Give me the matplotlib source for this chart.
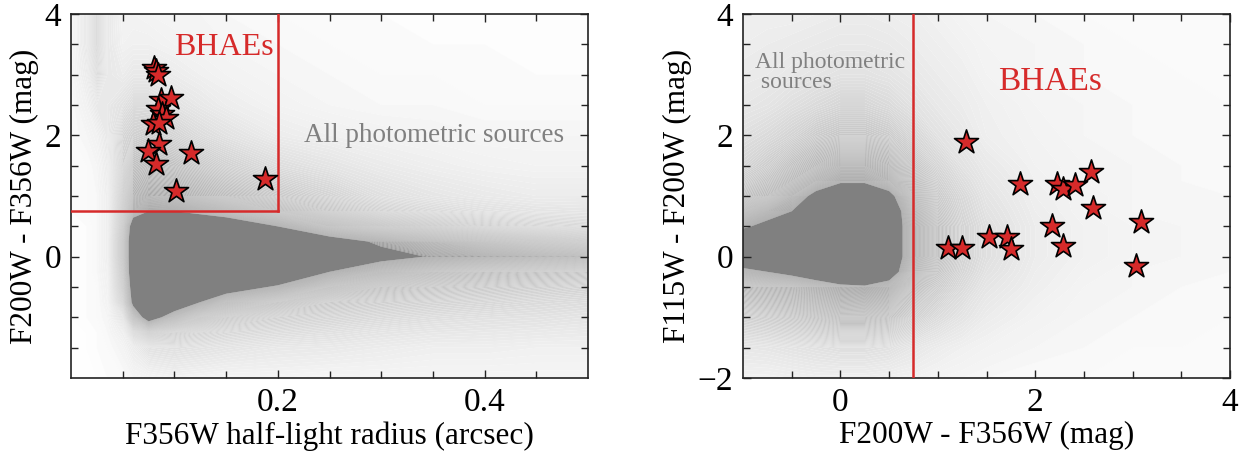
import matplotlib
matplotlib.use('Agg')
import matplotlib.pyplot as plt
import numpy as np
from matplotlib.colors import LinearSegmentedColormap

plt.rcParams['font.family'] = ['Liberation Serif', 'DejaVu Serif']

RED = '#d62a2a'
GRAY = '#808080'

# ---- density of all photometric sources, left panel (radius vs colour)
lx_nodes = [0.0, 0.015, 0.025, 0.035, 0.05, 0.06, 0.075, 0.1, 0.125, 0.15,
            0.2, 0.25, 0.3, 0.35, 0.4, 0.45, 0.5]
ly_nodes = [4.0, 3.5, 3.0, 2.5, 2.0, 1.5, 1.0, 0.75, 0.5, 0.25, 0.0,
            -0.25, -0.5, -0.75, -1.0, -1.25, -1.5, -2.0]
left_density = [
    [0.04, 0.15, 0.30, 0.15, 0.07, 0.07, 0.06, 0.05, 0.05, 0.04, 0.03, 0.03, 0.02, 0.02, 0.02, 0.02, 0.02],
    [0.04, 0.15, 0.30, 0.15, 0.08, 0.09, 0.09, 0.07, 0.06, 0.05, 0.04, 0.03, 0.03, 0.02, 0.02, 0.02, 0.02],
    [0.04, 0.12, 0.25, 0.15, 0.12, 0.15, 0.15, 0.12, 0.09, 0.07, 0.05, 0.04, 0.03, 0.03, 0.03, 0.02, 0.02],
    [0.03, 0.08, 0.15, 0.15, 0.20, 0.25, 0.25, 0.20, 0.15, 0.11, 0.07, 0.05, 0.04, 0.04, 0.03, 0.03, 0.03],
    [0.03, 0.05, 0.08, 0.15, 0.30, 0.35, 0.38, 0.32, 0.25, 0.20, 0.12, 0.09, 0.07, 0.06, 0.05, 0.05, 0.05],
    [0.02, 0.03, 0.05, 0.12, 0.35, 0.50, 0.55, 0.50, 0.42, 0.34, 0.24, 0.18, 0.13, 0.10, 0.08, 0.07, 0.07],
    [0.02, 0.03, 0.04, 0.10, 0.45, 0.70, 0.80, 0.75, 0.65, 0.55, 0.42, 0.32, 0.22, 0.17, 0.14, 0.12, 0.12],
    [0.02, 0.03, 0.04, 0.10, 0.50, 0.85, 1.00, 1.00, 0.90, 0.80, 0.60, 0.45, 0.33, 0.26, 0.21, 0.18, 0.17],
    [0.02, 0.02, 0.04, 0.10, 0.55, 1.20, 1.40, 1.40, 1.40, 1.30, 1.00, 0.70, 0.55, 0.45, 0.36, 0.30, 0.27],
    [0.02, 0.02, 0.04, 0.10, 0.60, 1.30, 1.50, 1.50, 1.50, 1.50, 1.40, 1.15, 0.95, 0.78, 0.65, 0.55, 0.48],
    [0.02, 0.02, 0.04, 0.10, 0.60, 1.30, 1.50, 1.50, 1.50, 1.50, 1.50, 1.30, 1.10, 0.98, 0.90, 0.82, 0.75],
    [0.02, 0.02, 0.04, 0.09, 0.55, 1.30, 1.50, 1.50, 1.50, 1.50, 1.40, 1.00, 0.78, 0.65, 0.56, 0.50, 0.45],
    [0.02, 0.02, 0.03, 0.08, 0.50, 1.20, 1.50, 1.50, 1.40, 1.20, 0.95, 0.65, 0.52, 0.45, 0.40, 0.36, 0.32],
    [0.01, 0.02, 0.03, 0.07, 0.40, 1.10, 1.40, 1.30, 1.00, 0.75, 0.55, 0.42, 0.36, 0.32, 0.29, 0.26, 0.24],
    [0.01, 0.02, 0.03, 0.05, 0.20, 0.70, 1.20, 0.80, 0.55, 0.45, 0.35, 0.30, 0.26, 0.23, 0.21, 0.20, 0.18],
    [0.01, 0.01, 0.02, 0.04, 0.10, 0.30, 0.45, 0.38, 0.32, 0.28, 0.24, 0.21, 0.18, 0.16, 0.15, 0.14, 0.13],
    [0.01, 0.01, 0.02, 0.03, 0.06, 0.12, 0.20, 0.22, 0.20, 0.18, 0.15, 0.14, 0.12, 0.10, 0.10, 0.09, 0.09],
    [0.01, 0.01, 0.01, 0.02, 0.03, 0.05, 0.06, 0.08, 0.07, 0.06, 0.06, 0.05, 0.05, 0.05, 0.05, 0.05, 0.05],
]

# ---- density of all photometric sources, right panel (colour vs colour)
rx_nodes = [-1.0, -0.75, -0.5, -0.25, 0.0, 0.25, 0.5, 0.75, 1.0, 1.25, 1.5,
            2.0, 2.5, 3.0, 3.5, 4.0]
ry_nodes = [4.0, 3.5, 3.0, 2.5, 2.0, 1.5, 1.25, 1.0, 0.75, 0.5, 0.25, 0.0,
            -0.25, -0.5, -1.0, -1.5, -2.0]
right_density = [
    [0.10, 0.10, 0.10, 0.11, 0.12, 0.12, 0.11, 0.10, 0.08, 0.06, 0.05, 0.04, 0.03, 0.03, 0.03, 0.03],
    [0.11, 0.12, 0.13, 0.14, 0.15, 0.15, 0.14, 0.12, 0.10, 0.08, 0.06, 0.05, 0.04, 0.03, 0.03, 0.03],
    [0.13, 0.14, 0.16, 0.18, 0.20, 0.20, 0.18, 0.15, 0.12, 0.10, 0.07, 0.05, 0.04, 0.04, 0.03, 0.03],
    [0.16, 0.18, 0.22, 0.26, 0.30, 0.30, 0.26, 0.20, 0.15, 0.12, 0.09, 0.06, 0.05, 0.04, 0.04, 0.03],
    [0.22, 0.26, 0.32, 0.40, 0.45, 0.45, 0.40, 0.30, 0.20, 0.15, 0.10, 0.07, 0.05, 0.04, 0.04, 0.04],
    [0.30, 0.38, 0.50, 0.62, 0.75, 0.75, 0.65, 0.45, 0.30, 0.20, 0.14, 0.08, 0.06, 0.05, 0.04, 0.04],
    [0.38, 0.48, 0.62, 0.80, 0.95, 0.95, 0.80, 0.55, 0.35, 0.24, 0.16, 0.09, 0.06, 0.05, 0.04, 0.04],
    [0.50, 0.60, 0.80, 1.10, 1.30, 1.30, 1.10, 0.65, 0.40, 0.28, 0.18, 0.10, 0.07, 0.05, 0.05, 0.04],
    [0.70, 0.85, 1.00, 1.30, 1.50, 1.50, 1.25, 0.75, 0.45, 0.30, 0.20, 0.11, 0.07, 0.05, 0.05, 0.04],
    [0.95, 1.10, 1.30, 1.50, 1.50, 1.50, 1.25, 0.80, 0.50, 0.32, 0.22, 0.12, 0.08, 0.06, 0.05, 0.04],
    [1.30, 1.40, 1.50, 1.50, 1.50, 1.50, 1.25, 0.80, 0.50, 0.32, 0.22, 0.12, 0.08, 0.06, 0.05, 0.04],
    [1.30, 1.40, 1.50, 1.50, 1.50, 1.50, 1.25, 0.80, 0.50, 0.32, 0.22, 0.12, 0.08, 0.06, 0.05, 0.04],
    [0.90, 1.00, 1.10, 1.25, 1.50, 1.50, 1.20, 0.70, 0.45, 0.30, 0.20, 0.11, 0.07, 0.05, 0.05, 0.04],
    [0.60, 0.65, 0.70, 0.80, 0.90, 0.95, 0.85, 0.55, 0.38, 0.26, 0.17, 0.10, 0.06, 0.05, 0.04, 0.04],
    [0.35, 0.38, 0.42, 0.48, 0.55, 0.55, 0.50, 0.35, 0.25, 0.18, 0.12, 0.07, 0.05, 0.04, 0.04, 0.03],
    [0.16, 0.17, 0.19, 0.21, 0.23, 0.23, 0.21, 0.16, 0.12, 0.09, 0.07, 0.05, 0.04, 0.03, 0.03, 0.03],
    [0.08, 0.08, 0.09, 0.10, 0.10, 0.10, 0.09, 0.08, 0.06, 0.05, 0.04, 0.03, 0.03, 0.03, 0.03, 0.02],
]

# ---- BHAEs
bhae_radius = [0.0804, 0.082, 0.0837, 0.0869, 0.0966, 0.0837, 0.088, 0.0918,
               0.0789, 0.0853, 0.074, 0.082, 0.116, 0.1015, 0.188, 0.085]
bhae_col_left = [3.11, 3.06, 3.00, 2.59, 2.62, 2.43, 2.35, 2.29,
                 2.18, 1.85, 1.74, 1.52, 1.71, 1.08, 1.28, 2.20]
bhae_f200_f356 = [1.29, 1.84, 2.22, 2.29, 2.41, 2.57, 2.59, 3.09,
                  2.17, 2.29, 3.03, 1.53, 1.71, 1.75, 1.10, 1.25]
bhae_f115_f200 = [1.89, 1.20, 1.20, 1.12, 1.19, 1.40, 0.81, 0.57,
                  0.50, 0.17, -0.15, 0.33, 0.33, 0.13, 0.14, 0.14]

# white -> speckled halo -> solid core
cloud_cmap = LinearSegmentedColormap.from_list('cloud', [
    (0.0, '#ffffff'), (0.05, '#f5f5f5'), (0.15, '#e8e8e8'), (0.3, '#d6d6d6'),
    (0.5, '#c1c1c1'), (0.8, '#a9a9a9'), (1.0, '#989898')]).with_extremes(over=GRAY)
levels = np.linspace(0, 1, 101)

fig = plt.figure(figsize=(12.5, 4.54), dpi=100)
ax1 = fig.add_axes([0.0568, 0.1674, 0.4136, 0.8016])
ax2 = fig.add_axes([0.5944, 0.1674, 0.3896, 0.8016])

def style_axes(ax):
    for s in ax.spines.values():
        s.set_linewidth(1.2)
        s.set_color('#222222')
    ax.tick_params(which='both', direction='in', top=True, right=True,
                   width=1.0, color='#222222')
    ax.tick_params(which='major', length=6, labelsize=24, pad=7)
    ax.tick_params(which='minor', length=5)

# left panel
ax1.contourf(lx_nodes, ly_nodes, left_density, levels=levels, cmap=cloud_cmap,
             extend='max', zorder=0, antialiased=True)
ax1.plot([0, 0.2], [0.75, 0.75], color=RED, lw=1.8, zorder=3)
ax1.plot([0.2, 0.2], [0.75, 4], color=RED, lw=1.8, zorder=3)
ax1.scatter(bhae_radius, bhae_col_left, marker='*', s=330, c=RED,
            edgecolors='black', linewidths=1.2, zorder=4)
ax1.text(0.1, 3.45, 'BHAEs', color=RED, fontsize=23, va='center', ha='left')
ax1.text(0.225, 2.0, 'All photometric sources', color=GRAY, fontsize=19.5,
         va='center', ha='left')
ax1.set_xlim(0, 0.5)
ax1.set_ylim(-2, 4)
ax1.set_xticks([0.2, 0.4])
ax1.set_xticks(np.arange(0.05, 0.5, 0.05), minor=True)
ax1.set_yticks([0, 2, 4])
ax1.set_yticks(np.arange(-1.5, 4, 0.5), minor=True)
ax1.set_xlabel('F356W half-light radius (arcsec)', fontsize=22.5, labelpad=2)
ax1.set_ylabel('F200W - F356W (mag)', fontsize=22.5, labelpad=4)
style_axes(ax1)

# right panel
ax2.contourf(rx_nodes, ry_nodes, right_density, levels=levels, cmap=cloud_cmap,
             extend='max', zorder=0, antialiased=True)
ax2.axvline(0.75, color=RED, lw=1.8, zorder=3)
ax2.scatter(bhae_f200_f356, bhae_f115_f200, marker='*', s=330, c=RED,
            edgecolors='black', linewidths=1.2, zorder=4)
ax2.text(1.62, 2.89, 'BHAEs', color=RED, fontsize=24, va='center', ha='left')
ax2.text(-0.88, 3.04, 'All photometric\n sources', color=GRAY, fontsize=17,
         va='center', ha='left', linespacing=0.95)
ax2.set_xlim(-1, 4)
ax2.set_ylim(-2, 4)
ax2.set_xticks([0, 2, 4])
ax2.set_xticks(np.arange(-0.5, 4, 0.5), minor=True)
ax2.set_yticks([-2, 0, 2, 4])
ax2.set_yticks(np.arange(-1.5, 4, 0.5), minor=True)
ax2.set_xlabel('F200W - F356W (mag)', fontsize=22.5, labelpad=2)
ax2.set_ylabel('F115W - F200W (mag)', fontsize=22.5, labelpad=4)
style_axes(ax2)

fig.savefig('out.png', dpi=100)
